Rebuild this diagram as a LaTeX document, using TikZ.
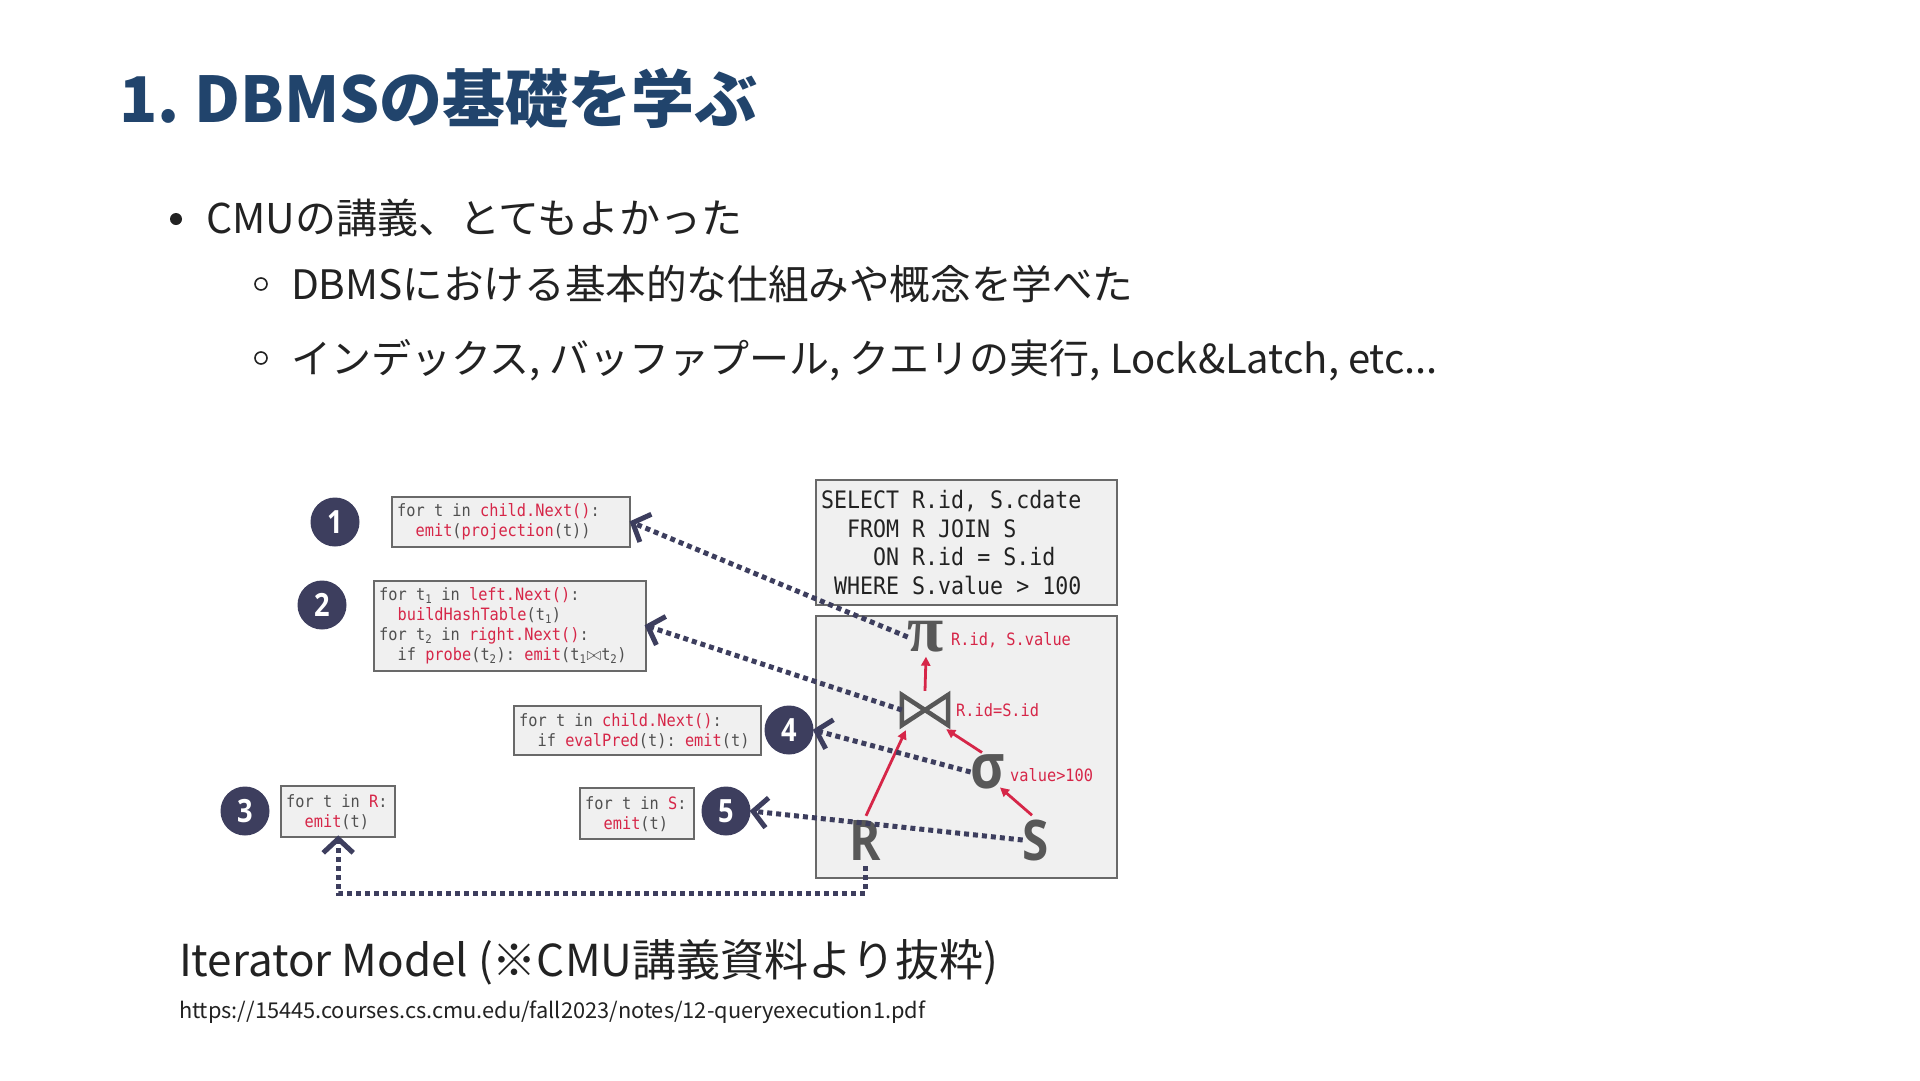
\documentclass[tikz,border=0pt]{standalone}
\usepackage{fontspec}
\usepackage{graphicx}
\setmainfont{Noto Sans CJK JP}
\newfontfamily\codefont[FakeStretch=0.9]{DejaVu Sans Mono}
\newfontfamily\serifsym{Liberation Serif}
\newfontfamily\sanssym[FakeStretch=0.85]{Open Sans}
\usetikzlibrary{arrows.meta, calc}
\newcommand\monosp{\frenchspacing\spaceskip=\fontcharwd\font`x\relax\xspaceskip=\spaceskip}
\definecolor{titleblue}{RGB}{33,68,108}
\definecolor{bodytext}{RGB}{34,34,34}
\definecolor{navy}{RGB}{61,62,94}
\definecolor{codered}{RGB}{214,38,72}
\definecolor{codegray}{RGB}{80,80,80}
\definecolor{boxfill}{RGB}{240,240,240}
\definecolor{boxline}{RGB}{105,105,105}
\definecolor{symgray}{RGB}{88,88,88}
\newcommand\rd[1]{\textcolor{codered}{#1}}
\newcommand\ii{\phantom{xx}}
\newcommand\bt{\scalebox{1.05}{$\bowtie$}}
\tikzset{
  txt/.style={anchor=base west, inner sep=0pt, outer sep=0pt},
  codebox/.style={draw=boxline, fill=boxfill, line width=2.4pt, inner xsep=5pt, inner ysep=0pt,
    align=left, anchor=north west, text=codegray, font=\codefont\fontsize{17}{20}\selectfont},
  numc/.style={circle, fill=navy, minimum size=49pt, inner sep=0pt, text=white,
    font=\sanssym\bfseries\fontsize{32}{32}\selectfont},
  sym/.style={inner sep=0pt, text=symgray},
  lbl/.style={anchor=west, inner sep=0pt, text=codered, font=\codefont\fontsize{17}{20}\selectfont},
  dotarrow/.style={draw=navy, line width=5pt, dash pattern=on 5pt off 4pt,
    -{Straight Barb[length=14pt, width=30pt, line width=5pt]}},
  redarrow/.style={draw=codered, line width=2.8pt, -{Triangle[length=9pt, width=9pt]}},
}
\begin{document}
\begin{tikzpicture}[x=1pt, y=-1pt]
\useasboundingbox[fill=white] (0,0) rectangle (1920,1080);

% title and bullets
\node[txt, text=titleblue, font=\bfseries\fontsize{63}{76}\selectfont] (title) at (119,122) {1.\hspace{-4pt} DBMSの基礎を学ぶ};
\fill[bodytext] (176,219) circle (6);
\node[txt, text=bodytext, font=\fontsize{41}{48}\selectfont] (l1) at (206,233) {CMUの講義、とてもよかった};
\draw[bodytext, line width=1.6pt] (261,284) circle (6);
\node[txt, text=bodytext, font=\fontsize{40.6}{48}\selectfont] (l2) at (291,299) {DBMSにおける基本的な仕組みや概念を学べた};
\draw[bodytext, line width=1.6pt] (261,358) circle (6);
\node[txt, text=bodytext, font=\fontsize{40}{48}\selectfont] (l3) at (291,373) {インデックス, バッファプール, クエリの実行, Lock\&Latch, etc...};

% code boxes
\node[codebox, text width=228pt, minimum height=50pt] (b1) at (391,496)
  {\monosp for t in \rd{child.Next()}:\\\ii\rd{emit}(\rd{projection}(t))};
\node[codebox, text width=262pt, minimum height=90pt] (b2) at (373,580)
  {\monosp for t\textsubscript{1} in \rd{left.Next()}:\\\ii\rd{buildHashTable}(t\textsubscript{1})\\for t\textsubscript{2} in \rd{right.Next()}:\\\ii if \rd{probe}(t\textsubscript{2}): \rd{emit}(t\textsubscript{1}\bt t\textsubscript{2})};
\node[codebox, text width=237pt, minimum height=49pt] (b4) at (513,705)
  {\monosp for t in \rd{child.Next()}:\\\ii if \rd{evalPred}(t): \rd{emit}(t)};
\node[codebox, text width=104pt, minimum height=51pt] (b3) at (280,785)
  {\monosp for t in \rd{R}:\\\ii\rd{emit}(t)};
\node[codebox, text width=104pt, minimum height=51pt] (b5) at (579,787)
  {\monosp for t in \rd{S}:\\\ii\rd{emit}(t)};

% numbered circles
\node[numc] (c1) at (335,522) {1};
\node[numc] (c2) at (322,605) {2};
\node[numc] (c4) at (789,730) {4};
\node[numc] (c3) at (245,811) {3};
\node[numc] (c5) at (726,811) {5};

% SQL box
\node[codebox, text=bodytext, text width=291pt, minimum height=125pt, font=\codefont\fontsize{24}{28.5}\selectfont] (sql) at (815,479)
  {\monosp SELECT R.id, S.cdate\\\ii FROM R JOIN S\\\ii\ii ON R.id = S.id\\\phantom{x}WHERE S.value > 100};

% tree box
\node[draw=boxline, fill=boxfill, line width=2.4pt, minimum width=301pt, minimum height=262pt, anchor=north west, inner sep=0pt] (tree) at (815,615) {};

% operators
\node[sym, font=\serifsym\bfseries\fontsize{66}{66}\selectfont] (pi) at (926,637) {π};
\node[lbl] (pil) at (951,640) {R.id, S.value};
\node[minimum width=46pt, minimum height=30pt, inner sep=0pt] (join) at (925,710) {};
\draw[symgray, line width=4.5pt, line join=miter] (join.north west) -- (join.south west) -- (join.north east) -- (join.south east) -- cycle;
\node[lbl] (joinl) at (956,710) {R.id=S.id};
\node[sym, font=\sanssym\bfseries\fontsize{62}{62}\selectfont] (sigma) at (988,772) {σ};
\node[lbl] (sigmal) at (1010,775) {value>100};
\node[sym, font=\sanssym\bfseries\fontsize{56}{56}\selectfont] (R) at (865,840) {R};
\node[sym, font=\sanssym\bfseries\fontsize{56}{56}\selectfont] (S) at (1036,840) {S};

% red arrows
\draw[redarrow] ($(join.north)+(0,-4)$) -- ($(pi.south)+(0,4)$);
\draw[redarrow] ($(sigma.north)+(-6,-2)$) -- ($(join.south east)+(-2,4)$);
\draw[redarrow] ($(S.north)+(-4,-4)$) -- ($(sigma.south)+(12,-2)$);
\draw[redarrow] ($(R.north)+(1,-4)$) -- ($(join.south west)+(4,5)$);

% dotted arrows
\coordinate (bottomline) at (600,893);
\draw[dotarrow, shorten >=-2pt] (pi.west) -- (b1.east);
\draw[dotarrow, shorten >=-3pt] (join.west) -- (b2.east);
\draw[dotarrow, shorten >=-1pt] (sigma.west) -- (c4.east);
\draw[dotarrow, shorten >=-1pt] (S.west) -- (c5.east);
\draw[dotarrow, shorten <=6pt, shorten >=-3pt] (R.south) -- (R.south |- bottomline) -| (b3.south);

% caption
\node[txt, text=bodytext, font=\fontsize{44}{50}\selectfont] (cap) at (179,976) {Iterator Model (※CMU講義資料より抜粋)};
\node[txt, text=bodytext, font=\fontsize{21.8}{26}\selectfont] (url) at (179,1018) {https://15445.courses.cs.cmu.edu/fall2023/notes/12-queryexecution1.pdf};
\end{tikzpicture}
\end{document}
